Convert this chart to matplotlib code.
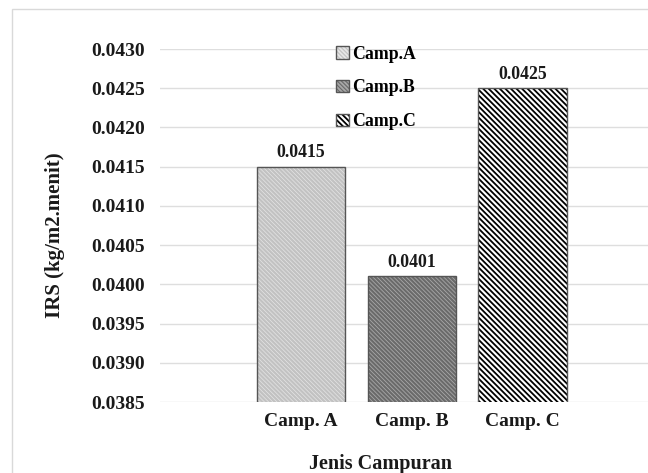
import matplotlib
matplotlib.use("Agg")
from matplotlib import pyplot as plt
from matplotlib.patches import Rectangle

# 글꼴 (Times 대신 Liberation Serif)
matplotlib.rcParams['font.family'] = ['Liberation Serif', 'DejaVu Serif']
matplotlib.rcParams['font.weight'] = 'bold'

# data
categories = ["Camp. A", "Camp. B", "Camp. C"]
legend_labels = ["Camp.A", "Camp.B", "Camp.C"]
irs = [0.0415, 0.0401, 0.0425]
value_labels = ["0.0415", "0.0401", "0.0425"]
yticks = [0.0385, 0.0390, 0.0395, 0.0400, 0.0405, 0.0410, 0.0415, 0.0420, 0.0425, 0.0430]

# style per bar: face, hatch, hatch colour
faces = ["#c2c2c2", "#6a6a6a", "white"]
hatches = ["\\" * 8, "\\" * 8, "\\" * 6]
hatch_cols = ["#e6e6e6", "#a8a8a8", "black"]
hatch_lw = [0.5, 0.6, 1.3]

fig = plt.figure(figsize=(6.48, 4.73), dpi=100)
ax = fig.add_axes([160/648, 1-402/473, 488/648, 353/473])

# light frame round the chart
fig.patches.append(Rectangle((12/648, -0.1), 1.2, 1.1 - 9/473,
                             transform=fig.transFigure, fill=False,
                             edgecolor="#d9d9d9", linewidth=1.0))

x = list(range(len(categories)))
handles = []
for i in x:
    plt.rcParams['hatch.linewidth'] = hatch_lw[i]
    b = ax.bar(x[i], irs[i], width=0.8, color=faces[i], hatch=hatches[i],
               edgecolor=hatch_cols[i], linewidth=0, zorder=2)
    o = ax.bar(x[i], irs[i], width=0.8, fill=False, edgecolor="#555555",
               linewidth=1.0, zorder=3)
    handles.append((b, o))
    ax.annotate(value_labels[i], (x[i], irs[i]), xytext=(0, 4),
                textcoords="offset points", ha="center", va="bottom",
                fontsize=12.8, fontweight="bold", color="#1a1a1a")

ax.set_ylim(0.0385, 0.0430)
ax.set_xlim(-1.277, 3.136)
ax.set_yticks(yticks)
ax.set_yticklabels([f"{v:.4f}" for v in yticks])
ax.set_xticks(x)
ax.set_xticklabels(categories)
ax.tick_params(axis="y", length=0, pad=11, labelsize=14, colors="#1a1a1a")
ax.tick_params(axis="x", length=0, pad=8, labelsize=14, colors="#1a1a1a")

ax.grid(axis="y", color="#dedede", linewidth=1.0, zorder=0)
ax.set_axisbelow(True)
for s in ax.spines.values():
    s.set_visible(False)

ax.set_ylabel("IRS (kg/m2.menit)", fontsize=15, fontweight="bold", color="#1a1a1a")
ax.yaxis.set_label_coords(-0.195, 0.473)
ax.set_xlabel("Jenis Campuran", fontsize=14.5, fontweight="bold", color="#1a1a1a")
ax.xaxis.set_label_coords(0.451, -0.148)

ax.legend(handles=handles, labels=legend_labels, loc="upper center",
          bbox_to_anchor=(0.443, 1.035),
          frameon=False, handlelength=0.7, handleheight=0.7,
          handletextpad=0.2, labelspacing=0.95, borderpad=0,
          prop={"weight": "bold", "size": 12.8})

plt.savefig("out.png", dpi=100)
